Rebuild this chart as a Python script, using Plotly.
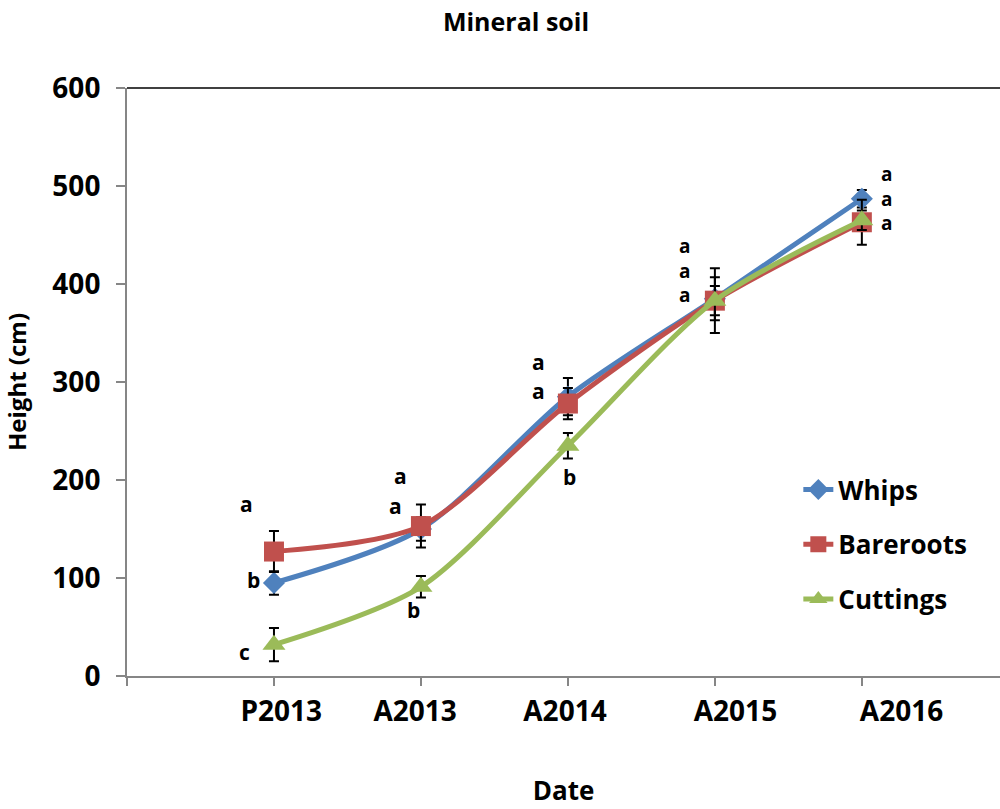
import plotly.graph_objects as go

dates = ["P2013", "A2013", "A2014", "A2015", "A2016"]
whips = [95, 150, 285, 385, 487]
whips_err = [12, 12, 19, 22, 9]
bareroots = [127, 153, 278, 383, 463]
bareroots_err = [21, 22, 16, 33, 23]
cuttings = [32, 91, 235, 383, 465]
cuttings_err = [17, 11, 13, 15, 10]

# significance letters: (date index, height, letter text)
letters = [
    (0, 176, "a"), (0, 98, "b"), (0, 25, "c"),
    (1, 204, "a"), (1, 173, "a"), (1, 67, "b"),
    (2, 320, "a"), (2, 291, "a"), (2, 203, "b"),
    (3, 414, "a<br>a<br>a"),
    (4, 487, "a<br>a<br>a"),
]
letter_dx = [-0.19, -0.136, -0.2, -0.14, -0.17, -0.05, -0.2, -0.2, 0.014, -0.21, 0.17]

FONT = "Open Sans"
xi = list(range(len(dates)))

fig = go.Figure()
series = [
    ("Whips", whips, whips_err, "#4F81BD", "diamond", 17),
    ("Bareroots", bareroots, bareroots_err, "#C0504D", "square", 20),
    ("Cuttings", cuttings, cuttings_err, "#9BBB59", "triangle-up", 20),
]
for name, vals, err, col, sym, sz in series:
    fig.add_trace(go.Scatter(
        x=xi, y=vals, name=name, mode="lines+markers",
        line=dict(color=col, width=5, shape="spline", smoothing=0.8),
        marker=dict(symbol=sym, size=sz, color=col),
        error_y=dict(type="data", array=err, color="black", thickness=2, width=5),
        legendgroup=name,
    ))

# invisible trace on xaxis2 so its labels render
fig.add_trace(go.Scatter(x=xi, y=whips, xaxis="x2", mode="markers",
                         marker=dict(opacity=0), showlegend=False, hoverinfo="skip"))

label_pos = [0.05, 0.96, 1.98, 3.14, 4.27]

for (i, yv, t), dx in zip(letters, letter_dx):
    multi = "<br>" in t
    fig.add_annotation(x=i + dx, y=yv, text=t, showarrow=False,
                       font=dict(family=FONT, size=19 if multi else 21, color="black",
                                 weight="bold"),
                       xref="x", yref="y")

fig.add_shape(type="line", xref="paper", yref="paper", x0=0, x1=1, y0=1, y1=1,
              line=dict(color="#404040", width=2))

fig.update_layout(
    width=1000, height=809,
    margin=dict(l=127, r=0, t=88, b=133),
    paper_bgcolor="white", plot_bgcolor="white",
    title=dict(text="<b>Mineral soil</b>", x=0.516, xanchor="center", y=0.973, yanchor="middle",
               font=dict(family=FONT, size=25, color="black")),
    xaxis=dict(range=[-1, 4.94], tickmode="array", tickvals=[-1, 0, 1, 2, 3, 4],
               showticklabels=False, ticks="outside", ticklen=8, tickwidth=2,
               tickcolor="#868686", showline=True, linecolor="#868686", linewidth=2,
               showgrid=False, zeroline=False,
               title=dict(text="<b>Date</b>", font=dict(family=FONT, size=26, color="black"),
                          standoff=97)),
    xaxis2=dict(range=[-1, 4.94], overlaying="x", anchor="y", side="bottom",
                tickmode="array", tickvals=label_pos, ticktext=dates, ticks="",
                showline=False, showgrid=False, zeroline=False, ticklabelstandoff=16,
                tickfont=dict(family=FONT, size=28, color="black", weight="bold")),
    yaxis=dict(range=[0, 600], tickmode="linear", dtick=100, ticks="outside", ticklen=9,
               tickwidth=2, tickcolor="#868686", showline=True, linecolor="#868686",
               linewidth=2, showgrid=False, zeroline=False, ticklabelstandoff=10,
               tickfont=dict(family=FONT, size=28, color="black", weight="bold"),
               title=dict(text="<b>Height (cm)</b>", font=dict(family=FONT, size=24, color="black"),
                          standoff=22)),
    legend=dict(x=0.769, y=0.357, xanchor="left", yanchor="top", bgcolor="rgba(0,0,0,0)",
                font=dict(family=FONT, size=26, color="black", weight="bold"),
                tracegroupgap=18, traceorder="grouped"),
    showlegend=True,
)

fig.write_html("out.html")
